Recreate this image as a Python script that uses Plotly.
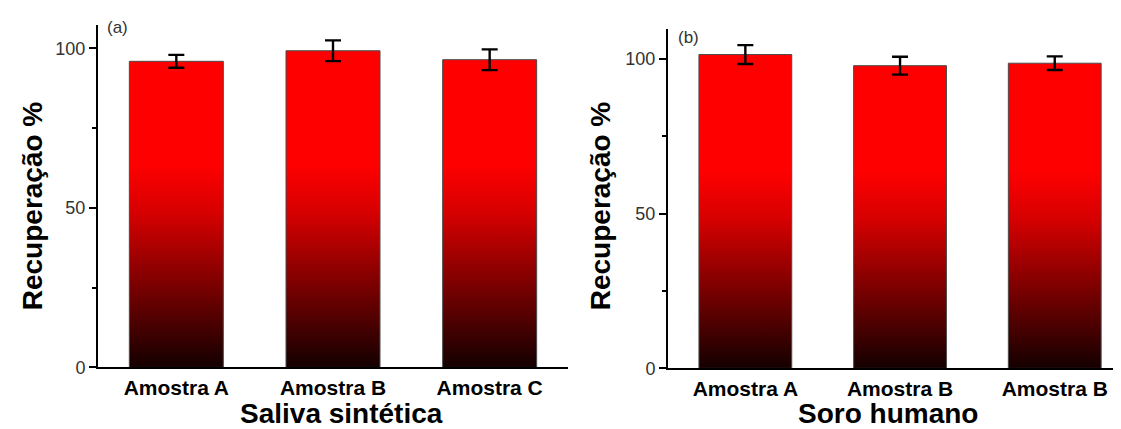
import plotly.graph_objects as go

# ---- data ----
labels_a = ["Amostra A", "Amostra B", "Amostra C"]
values_a = [95.9, 99.2, 96.4]
errors_a = [2.0, 3.25, 3.25]

labels_b = ["Amostra A", "Amostra B", "Amostra B"]
values_b = [101.5, 97.9, 98.7]
errors_b = [3.05, 2.9, 2.2]

yticks = [0, 50, 100]
panel_titles = ["Saliva sintética", "Soro humano"]
panel_tags = ["(a)", "(b)"]
y_title = "Recuperação %"

W, H = 1121, 429
BAR_W = 0.6
FONT = "Arial, Liberation Sans, sans-serif"

grad = dict(
    type="vertical", start=0, stop=100,
    colorscale=[[0.0, "rgb(10,0,0)"], [0.25, "rgb(112,0,0)"],
                [0.5, "rgb(215,0,0)"], [0.65, "rgb(255,0,0)"], [1.0, "rgb(255,0,0)"]],
)

fig = go.Figure()


def add_panel(labels, values, errors, xa, ya):
    for i, v in enumerate(values):
        x0, x1 = i - BAR_W / 2, i + BAR_W / 2
        fig.add_trace(go.Scatter(
            x=[x0, x0, x1, x1, x0], y=[0, v, v, 0, 0],
            mode="lines", fill="toself", fillgradient=grad,
            line=dict(color="#4a4a4a", width=1),
            xaxis=xa, yaxis=ya, showlegend=False, hoverinfo="skip",
        ))
    fig.add_trace(go.Scatter(
        x=list(range(len(values))), y=values, mode="markers",
        marker=dict(size=1, color="rgba(0,0,0,0)"),
        error_y=dict(type="data", array=errors, visible=True,
                     color="black", thickness=2.4, width=8),
        xaxis=xa, yaxis=ya, showlegend=False,
    ))


add_panel(labels_a, values_a, errors_a, "x", "y")
add_panel(labels_b, values_b, errors_b, "x2", "y2")

xcommon = dict(showline=True, linecolor="black", linewidth=2, ticks="",
               showgrid=False, zeroline=False, tickmode="array",
               tickfont=dict(family=FONT, size=21, color="black", weight="bold"))
ycommon = dict(showline=True, linecolor="black", linewidth=2, ticks="outside",
               ticklen=7, tickwidth=2, tickcolor="black", showgrid=False,
               zeroline=False, tickvals=yticks,
               tickfont=dict(family=FONT, size=18, color="#333333"),
               minor=dict(ticks="outside", ticklen=4, tickwidth=2,
                          tickcolor="black", dtick=25, showgrid=False))

fig.update_layout(
    width=W, height=H,
    margin=dict(l=0, r=0, t=0, b=0),
    paper_bgcolor="white", plot_bgcolor="white",
    xaxis=dict(domain=[90 / W, 560 / W], range=[-0.5, 2.5],
               tickvals=[0, 1, 2], ticktext=labels_a, anchor="y", **xcommon),
    yaxis=dict(domain=[(H - 368) / H, (H - 17) / H], range=[0, 107.4],
               anchor="x", **ycommon),
    xaxis2=dict(domain=[660 / W, 1.0], range=[-0.5, 2.48],
                tickvals=[0, 1, 2], ticktext=labels_b, anchor="y2", **xcommon),
    yaxis2=dict(domain=[(H - 369) / H, (H - 21.7) / H], range=[0, 109.7],
                anchor="x2", **ycommon),
)

ann = []
# x titles
for txt, cx in zip(panel_titles, [333, 880]):
    ann.append(dict(text=f"<b>{txt}</b>", x=cx / W, y=(H - 415) / H,
                    xref="paper", yref="paper", showarrow=False,
                    xanchor="center", yanchor="middle",
                    font=dict(family=FONT, size=28, color="black")))
# y titles
for cx in [24, 592]:
    ann.append(dict(text=f"<b>{y_title}</b>", x=cx / W, y=(H - 203) / H,
                    xref="paper", yref="paper", showarrow=False, textangle=-90,
                    xanchor="center", yanchor="middle",
                    font=dict(family=FONT, size=28, color="black")))
# panel tags
for tag, (cx, cy) in zip(panel_tags, [(109, 20), (680, 30)]):
    ann.append(dict(text=tag, x=cx / W, y=(H - cy) / H,
                    xref="paper", yref="paper", showarrow=False,
                    xanchor="center", yanchor="middle",
                    font=dict(family=FONT, size=17, color="#333333")))
fig.update_layout(annotations=ann)

fig.write_html("out.html")
